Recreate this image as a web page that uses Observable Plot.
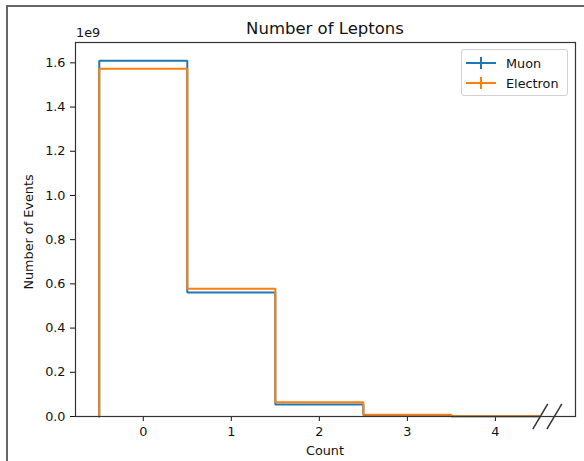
<!DOCTYPE html>
<html><head><meta charset="utf-8">
<script src="https://cdn.jsdelivr.net/npm/d3@7"></script>
<script src="https://cdn.jsdelivr.net/npm/@observablehq/plot@0.6"></script>
<style>
body{margin:0;background:#fff;font-family:"DejaVu Sans",sans-serif;}
#wrap{position:relative;width:584px;height:461px;overflow:hidden;background:#fff;}
#border{position:absolute;left:6px;top:5px;width:700px;height:600px;border:2px solid #666;}
#chart{position:absolute;left:0;top:0;}
.t{position:absolute;color:#111;white-space:nowrap;}
#legend{position:absolute;left:461px;top:49px;width:105px;height:45px;border:1px solid #d0d0d0;border-radius:3px;background:rgba(255,255,255,0.8);}
</style></head>
<body>
<div id="wrap">
<div id="border"></div>
<div id="chart"></div>
<div class="t" id="title" style="left:325px;top:19px;transform:translateX(-50%);font-size:16.5px;">Number of Leptons</div>
<div class="t" style="left:76px;top:25px;font-size:12.8px;">1e9</div>
<div class="t" style="left:325px;top:443px;transform:translateX(-50%);font-size:12.8px;">Count</div>
<div class="t" style="left:28px;top:232px;transform:translate(-50%,-50%) rotate(-90deg);font-size:12.8px;">Number of Events</div>
<div id="legend"></div>
</div>
<script>
const categories = [0, 1, 2, 3, 4];
const binEdges = [-0.5, 0.5, 1.5, 2.5, 3.5, 4.5];
const muon = [1.610e9, 0.561e9, 0.054e9, 0.007e9, 0.001e9];
const electron = [1.573e9, 0.578e9, 0.065e9, 0.008e9, 0.001e9];
const seriesNames = ["Muon", "Electron"];
const seriesColors = ["#1f77b4", "#ff7f0e"];
const yTicks = [0, 0.2e9, 0.4e9, 0.6e9, 0.8e9, 1.0e9, 1.2e9, 1.4e9, 1.6e9];
const xTicks = [0, 1, 2, 3, 4];
const breakCenters = [4.51, 4.67];

function stepPoints(vals, name) {
  const pts = [{x: binEdges[0], y: 0, s: name}];
  vals.forEach((v, i) => pts.push({x: binEdges[i], y: v, s: name}));
  pts.push({x: binEdges[binEdges.length - 1], y: vals[vals.length - 1], s: name});
  pts.push({x: binEdges[binEdges.length - 1], y: 0, s: name});
  return pts;
}
const muonPts = stepPoints(muon, seriesNames[0]);
const elecPts = stepPoints(electron, seriesNames[1]);

const plot = Plot.plot({
  width: 584, height: 461,
  marginLeft: 75, marginRight: 9, marginTop: 42, marginBottom: 45,
  style: {fontFamily: "DejaVu Sans", fontSize: "12.8px", color: "#111", background: "transparent"},
  x: {domain: [-0.77, 4.91], ticks: xTicks, tickSize: 5, tickPadding: 5, tickFormat: d => String(d), label: null},
  y: {domain: [0, 1.692e9], ticks: yTicks, tickSize: 5, tickPadding: 5, tickFormat: d => (d / 1e9).toFixed(1), label: null},
  marks: [
    Plot.line(muonPts, {x: "x", y: "y", curve: "step-after", stroke: seriesColors[0], strokeWidth: 2, strokeLinejoin: "miter"}),
    Plot.line(elecPts, {x: "x", y: "y", curve: "step-after", stroke: seriesColors[1], strokeWidth: 2, strokeLinejoin: "miter"}),
    Plot.frame({stroke: "#333", strokeWidth: 1.2}),
    Plot.link(breakCenters, {x1: d => d - 0.085, x2: d => d + 0.085, y1: -0.0566e9, y2: 0.0566e9, stroke: "#333", strokeWidth: 1.5})
  ]
});
document.getElementById("chart").appendChild(plot);

// legend
const lg = document.getElementById("legend");
seriesNames.forEach((name, i) => {
  const row = document.createElement("div");
  row.style.cssText = `position:absolute;left:3px;top:${5 + i * 20}px;height:16px;display:flex;align-items:center;`;
  row.innerHTML = `<svg width="32" height="16" style="display:block"><line x1="1" x2="31" y1="8" y2="8" stroke="${seriesColors[i]}" stroke-width="2"/><line x1="16" x2="16" y1="2" y2="14" stroke="${seriesColors[i]}" stroke-width="2"/></svg><span style="margin-left:9px;font-size:12.8px;color:#111">${name}</span>`;
  lg.appendChild(row);
});
</script>
</body></html>
